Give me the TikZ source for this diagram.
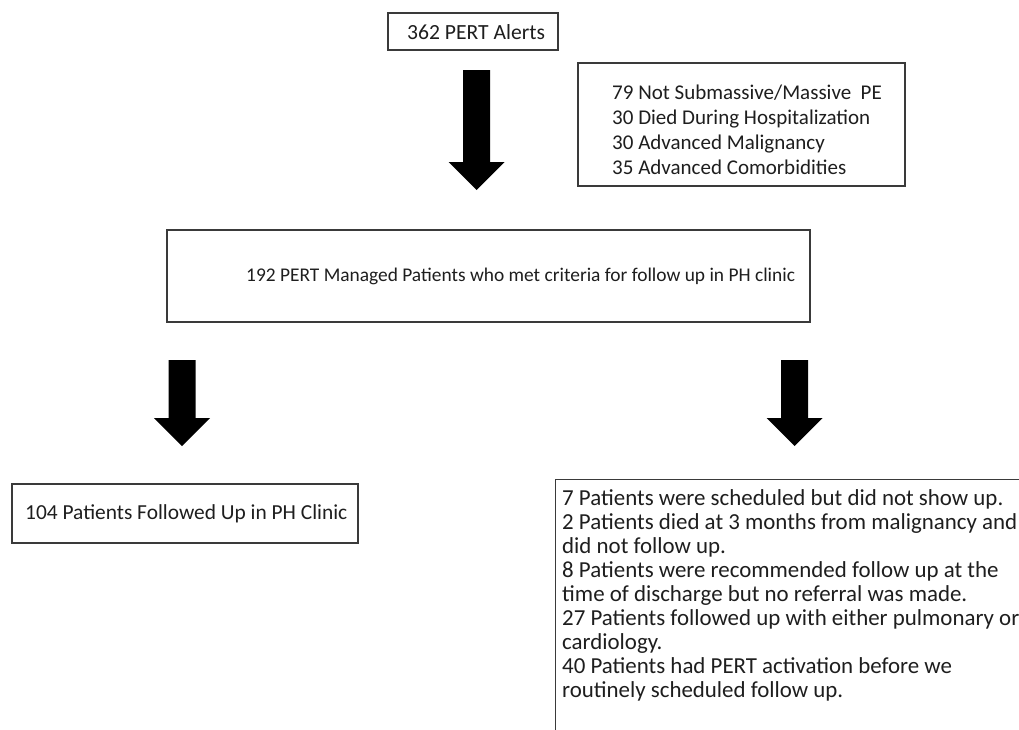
\documentclass[tikz,border=0pt]{standalone}
\usepackage{fontspec}
\setmainfont{Carlito}
\usetikzlibrary{calc}
\definecolor{boxline}{HTML}{3A3A3A}
\definecolor{txt}{HTML}{1E1E1E}
\tikzset{
  box/.style={draw=boxline, line width=1.4pt, rectangle, inner sep=0pt},
  lbl/.style={text=txt, inner sep=0pt, align=left},
  arrowfill/.style={fill=black}
}
\newcommand{\blockarrow}[2]{%
  \fill[arrowfill] let \p1=(#1), \p2=(#2) in
    (\x1-13.5pt,\y1) -- (\x1+13.5pt,\y1) -- (\x1+13.5pt,\y2+28pt) -- (\x1+28pt,\y2+28pt)
    -- (\x2,\y2) -- (\x1-28pt,\y2+28pt) -- (\x1-13.5pt,\y2+28pt) -- cycle;}
\begin{document}
\begin{tikzpicture}[x=1pt,y=-1pt]
\clip (0,0) rectangle (1019,729);
\fill[white] (0,0) rectangle (1019,729);
% top box
\node[box, minimum width=170pt, minimum height=37pt] (alerts) at (473,31.5) {};
\node[lbl, font=\fontsize{21.6}{26}\selectfont, anchor=west] (alertsT) at (407,32) {362 PERT Alerts};
% exclusions box
\node[box, minimum width=327pt, minimum height=123pt] (excl) at (741.5,124.5) {};
\node[lbl, font=\fontsize{21}{25}\selectfont, anchor=west] (exclT) at (612,129.5) {79 Not Submassive/Massive~ PE\\30 Died During Hospitalization\\30 Advanced Malignancy\\35 Advanced Comorbidities};
% managed box
\node[box, minimum width=643pt, minimum height=92pt] (managed) at (488.5,276) {};
\node[lbl, font=\fontsize{19.4}{24}\selectfont, anchor=west] (managedT) at (246,276) {192 PERT Managed Patients who met criteria for follow up in PH clinic};
% followed box
\node[box, minimum width=346pt, minimum height=59pt] (followed) at (185,513.5) {};
\node[lbl, font=\fontsize{21.4}{26}\selectfont, anchor=west] (followedT) at (25,513.5) {104 Patients Followed Up in PH Clinic};
% not followed box (cut off)
\node[box, minimum width=520pt, minimum height=300pt, anchor=north west] (notf) at (555,479) {};
\node[lbl, font=\fontsize{22.9}{24}\selectfont, anchor=north west] (notfT) at (562,489) {7 Patients were scheduled but did not show up.\\
2 Patients died at 3 months from malignancy and\\
did not follow up.\\
8 Patients were recommended follow up at the\\
time of discharge but no referral was made.\\
27 Patients followed up with either pulmonary or\\
cardiology.\\
40 Patients had PERT activation before we\\
routinely scheduled follow up.};
% arrows
\coordinate (a1s) at (476.5,70);
\coordinate (a1e) at (476.5,190);
\coordinate (a2s) at (182,360);
\coordinate (a2e) at (182,446);
\coordinate (a3s) at (794.5,360);
\coordinate (a3e) at (794.5,446);
\blockarrow{a1s}{a1e}
\blockarrow{a2s}{a2e}
\blockarrow{a3s}{a3e}
\end{tikzpicture}
\end{document}
